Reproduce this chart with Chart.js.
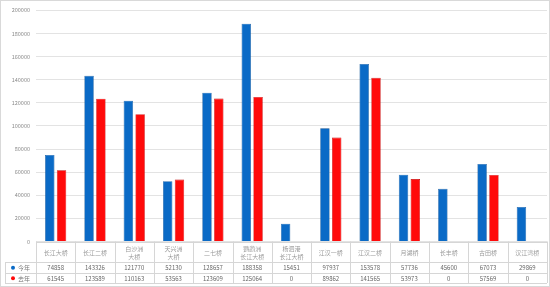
<!DOCTYPE html>
<html>
<head>
<meta charset="utf-8">
<script src="https://cdn.jsdelivr.net/npm/chart.js@4.4.1/dist/chart.umd.min.js"></script>
<style>
  html, body { margin: 0; padding: 0; background: #fff; }
  #wrap { width: 550px; height: 287px; position: relative; box-sizing: border-box; border: 1px solid #d9d9d9; }
</style>
</head>
<body>
<div id="wrap"><canvas id="chart" width="548" height="285"></canvas></div>
<script>
const bridges = [
  '长江大桥', '长江二桥', ['白沙洲', '大桥'], ['天兴洲', '大桥'], '二七桥',
  ['鹦鹉洲', '长江大桥'], ['杨泗港', '长江大桥'], '江汉一桥', '江汉二桥',
  '月湖桥', '长丰桥', '古田桥', '汉江湾桥'
];
const thisYear = [74858, 143326, 121770, 52130, 128657, 188358, 15451, 97937, 153578, 57736, 45600, 67073, 29869];
const lastYear = [61545, 123589, 110163, 53563, 123609, 125064, 0, 89862, 141565, 53973, 0, 57569, 0];
const seriesNames = ['今年', '去年'];
const seriesColors = ['#0a6ac6', '#ff0a0a'];
const yTicks = [0, 20000, 40000, 60000, 80000, 100000, 120000, 140000, 160000, 180000, 200000];

const FONT = '"Noto Sans CJK SC", "Noto Sans", sans-serif';
const ROW_H = 10.5;
const LABEL_H = 20.5;

// data table under the axis, like an Excel chart with table
const dataTable = {
  id: 'dataTable',
  afterDraw(chart) {
    const { ctx, chartArea, scales: { x } } = chart;
    const top = chartArea.bottom;
    const labelBottom = top + LABEL_H;
    const tableBottom = labelBottom + ROW_H * 2;
    const step = x.getPixelForValue(1) - x.getPixelForValue(0);
    const left = x.getPixelForValue(0) - step / 2;
    const right = x.getPixelForValue(bridges.length - 1) + step / 2;

    ctx.save();
    ctx.strokeStyle = '#d6d6d6';
    ctx.lineWidth = 1;
    ctx.beginPath();
    for (let i = 0; i <= bridges.length; i++) {
      const px = Math.round(left + step * i) + 0.5;
      ctx.moveTo(px, top);
      ctx.lineTo(px, tableBottom);
    }
    ctx.moveTo(left, Math.round(top) + 0.5);
    ctx.lineTo(right, Math.round(top) + 0.5);
    [labelBottom, labelBottom + ROW_H, tableBottom].forEach((yy) => {
      ctx.moveTo(4, Math.round(yy) + 0.5);
      ctx.lineTo(right, Math.round(yy) + 0.5);
    });
    ctx.moveTo(4.5, labelBottom);
    ctx.lineTo(4.5, tableBottom);
    ctx.stroke();

    ctx.textBaseline = 'middle';
    ctx.textAlign = 'center';
    ctx.font = '6px ' + FONT;
    ctx.fillStyle = '#9a9a9a';
    bridges.forEach((lab, i) => {
      const lines = Array.isArray(lab) ? lab : [lab];
      const mid = top + LABEL_H / 2 + 0.5;
      lines.forEach((t, k) => {
        ctx.fillText(t, x.getPixelForValue(i), mid + (k - (lines.length - 1) / 2) * 8);
      });
    });

    [thisYear, lastYear].forEach((vals, r) => {
      const cy = labelBottom + ROW_H * r + ROW_H / 2 + 0.5;
      ctx.fillStyle = seriesColors[r];
      ctx.beginPath();
      ctx.arc(12, cy, 2, 0, Math.PI * 2);
      ctx.fill();
      ctx.fillStyle = '#777';
      ctx.textAlign = 'left';
      ctx.fillText(seriesNames[r], 17, cy);
      ctx.textAlign = 'center';
      ctx.fillStyle = '#666';
      vals.forEach((v, i) => ctx.fillText(String(v), x.getPixelForValue(i), cy));
    });
    ctx.restore();
  }
};

new Chart(document.getElementById('chart'), {
  type: 'bar',
  data: {
    labels: bridges,
    datasets: [
      { label: seriesNames[0], data: thisYear, backgroundColor: seriesColors[0], borderColor: '#0a4f94', borderWidth: 0.6 },
      { label: seriesNames[1], data: lastYear, backgroundColor: seriesColors[1], borderColor: '#c00000', borderWidth: 0.6 }
    ]
  },
  options: {
    responsive: false,
    animation: false,
    devicePixelRatio: 1,
    layout: { padding: { top: 0, right: 2, bottom: ROW_H * 2 + 3, left: 0 } },
    datasets: { bar: { categoryPercentage: 0.6, barPercentage: 0.8 } },
    plugins: { legend: { display: false }, tooltip: { enabled: false } },
    scales: {
      x: {
        grid: { display: false },
        border: { display: false },
        ticks: { display: false },
        afterFit(scale) { scale.height = LABEL_H; }
      },
      y: {
        min: 0,
        max: 200000,
        afterBuildTicks(scale) { scale.ticks = yTicks.map((v) => ({ value: v })); },
        grid: { color: '#e3e3e3', drawTicks: false },
        border: { display: false },
        ticks: { color: '#8a8a8a', font: { size: 5.5, family: FONT }, padding: 6, callback: (v) => String(v) },
        afterFit(scale) { scale.width = 35; }
      }
    }
  },
  plugins: [dataTable]
});
</script>
</body>
</html>
